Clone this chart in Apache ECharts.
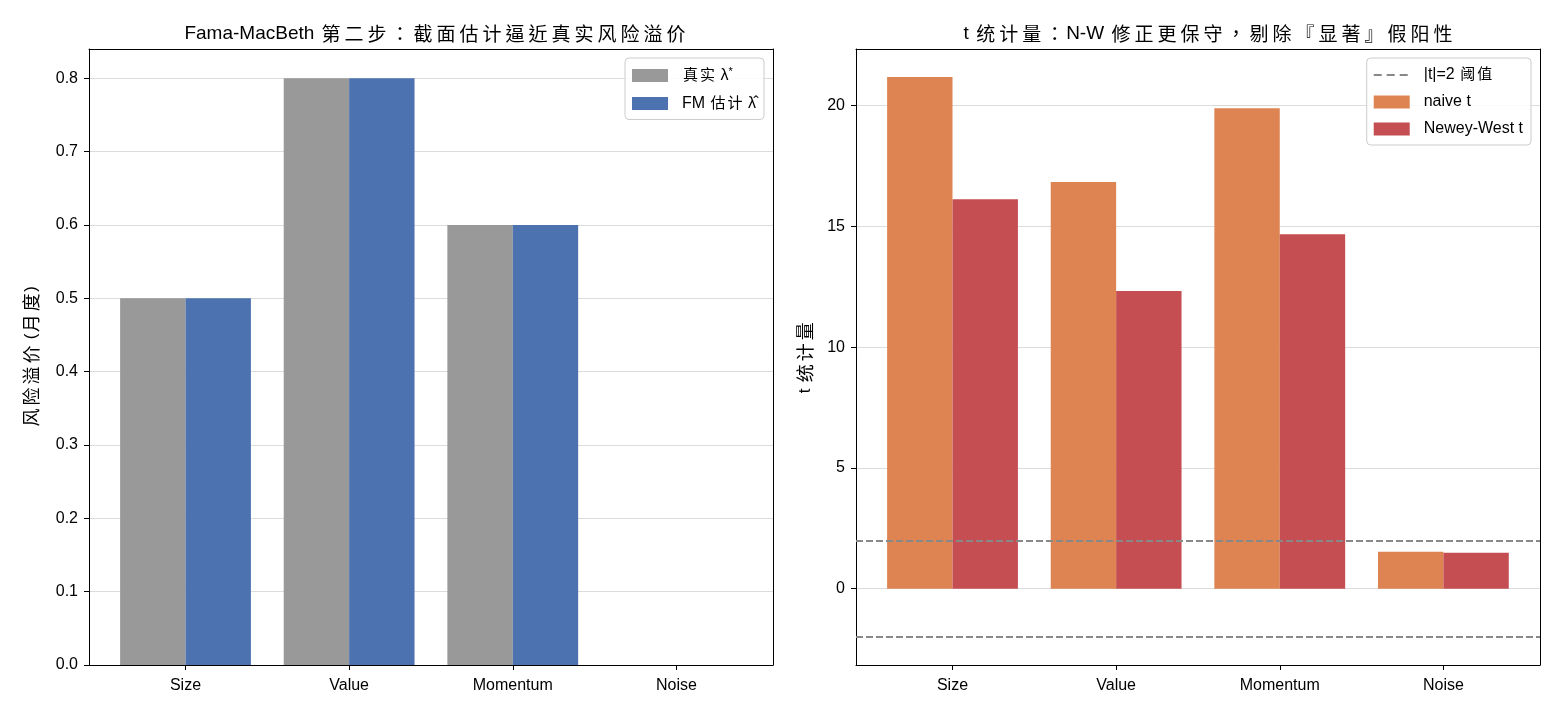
<!DOCTYPE html>
<html>
<head>
<meta charset="utf-8">
<script src="https://cdn.jsdelivr.net/npm/echarts@6/dist/echarts.min.js"></script>
<style>
  html, body { margin: 0; padding: 0; background: #fff; }
  #main { width: 1560px; height: 715px; }
</style>
</head>
<body>
<div id="main"></div>
<script>
// data
const categories = ['Size', 'Value', 'Momentum', 'Noise'];
const trueLambda = [0.5, 0.8, 0.6, 0.0];
const fmLambda = [0.5, 0.8, 0.6, 0.0];
const naiveT = [21.19, 16.84, 19.9, 1.53];
const nwT = [16.13, 12.33, 14.68, 1.49];
const threshold = [2, -2];
const leftTicks = [0, 0.1, 0.2, 0.3, 0.4, 0.5, 0.6, 0.7, 0.8];
const rightTicks = [0, 5, 10, 15, 20];

const FONT = '"Liberation Sans", "Noto Sans CJK TC", sans-serif';
const CJK = '"Noto Sans CJK TC", "Noto Sans CJK SC", sans-serif';
const nameTrue = '真实 λ*';
const nameFM = 'FM 估计 λ\u0302';
const nameThr = '|t|=2 阈值';
// dashed-line legend handle (3 dashes in a 36x13 box)
const dashIcon = 'path://M0,0Z M36,13Z M0,5.6h8v1.8h-8z M13,5.6h8v1.8h-8z M26,5.6h8v1.8h-8z';

// axes limits (matplotlib style margins)
const leftMin = 0, leftMax = 0.84;
const rightMin = -3.16, rightMax = 22.35;

// wrap every CJK char so it gets its own font + a bit of spacing
function cjk(s) {
  return s.replace(/[\u3000-\u303f\u4e00-\u9fff\uff00-\uffef]/g, '{c|$&}');
}

var chart = echarts.init(document.getElementById('main'));

function frameX(grid, pos) {
  return {
    type: 'value', gridIndex: grid, position: pos, min: 0, max: 1, z: 10,
    axisLine: { show: true, onZero: false, lineStyle: { color: '#000', width: 1 } },
    axisTick: { show: false }, axisLabel: { show: false }, splitLine: { show: false }
  };
}
function catX(grid) {
  return {
    type: 'category', gridIndex: grid, data: categories, position: 'bottom',
    axisLine: { show: false, onZero: false },
    axisTick: { show: true, alignWithLabel: true, length: 5, lineStyle: { color: '#000' } },
    axisLabel: { color: '#000', fontSize: 16, fontFamily: FONT, margin: 13 },
    splitLine: { show: false }
  };
}
function labelY(grid, min, max, ticks, name, gap, fmt) {
  return {
    type: 'value', gridIndex: grid, position: 'left', min: min, max: max,
    name: cjk(name), nameLocation: 'middle', nameRotate: 90, nameGap: gap,
    nameTextStyle: { color: '#000', fontSize: 17, fontFamily: FONT, lineHeight: 22,
      rich: { c: { fontSize: 18, fontFamily: CJK, color: '#000', lineHeight: 22,
        verticalAlign: 'middle', padding: [0, 1.5, 0, 1.5] } } },
    axisLine: { show: true, onZero: false, lineStyle: { color: '#000', width: 1 } },
    axisTick: { show: true, length: 5, customValues: ticks, lineStyle: { color: '#000' } },
    axisLabel: { color: '#000', fontSize: 16, fontFamily: FONT, margin: 11, customValues: ticks, formatter: fmt },
    splitLine: { show: true, lineStyle: { color: '#dcdcdc', width: 1 } }
  };
}
function frameY(grid, min, max) {
  return {
    type: 'value', gridIndex: grid, position: 'right', min: min, max: max,
    axisLine: { show: true, onZero: false, lineStyle: { color: '#000', width: 1 } },
    axisTick: { show: false }, axisLabel: { show: false }, splitLine: { show: false }
  };
}
function hiddenY(grid, min, max) {
  return { type: 'value', gridIndex: grid, min: min, max: max, show: false, splitLine: { show: false } };
}

const titleStyle = { color: '#000', fontSize: 19, fontWeight: 'normal', fontFamily: FONT, lineHeight: 24,
  rich: { c: { fontSize: 19, fontFamily: CJK, color: '#000', lineHeight: 24, verticalAlign: 'middle',
    padding: [0, 2, 0, 2] } } };
const legendText = { color: '#000', fontSize: 16, fontFamily: FONT, padding: [0, 0, 0, 9], lineHeight: 18,
  rich: {
    c: { fontSize: 15, fontFamily: CJK, color: '#000', lineHeight: 18, verticalAlign: 'middle',
      padding: [0, 1, 3, 1] },
    s: { fontSize: 11, fontFamily: FONT, color: '#000', padding: [0, 0, 8, 0] }
  } };

option = {
  backgroundColor: '#fff',
  animation: false,
  title: [
    { text: cjk('Fama-MacBeth 第二步：截面估计逼近真实风险溢价'), left: 431, top: 17, textAlign: 'center',
      textStyle: titleStyle },
    { text: cjk('t 统计量：N-W 修正更保守，剔除『显著』假阳性'), left: 1204, top: 17, textAlign: 'center',
      textStyle: titleStyle }
  ],
  legend: [
    { data: [nameTrue, nameFM], orient: 'vertical', right: 796, top: 58, icon: 'rect',
      itemWidth: 36, itemHeight: 13, itemGap: 10, padding: [8, 8, 7, 7],
      backgroundColor: 'rgba(255,255,255,0.85)', borderColor: '#cccccc', borderWidth: 1, borderRadius: 4,
      textStyle: legendText,
      formatter: function (n) { return n === nameTrue ? cjk('真实') + ' λ{s|*}' : cjk(n); } },
    { data: [
        { name: nameThr, icon: dashIcon, itemStyle: { color: '#888888' } },
        'naive t', 'Newey-West t'],
      orient: 'vertical', right: 29, top: 58, icon: 'rect',
      itemWidth: 36, itemHeight: 13, itemGap: 9, padding: [8, 8, 7, 7],
      backgroundColor: 'rgba(255,255,255,0.85)', borderColor: '#cccccc', borderWidth: 1, borderRadius: 4,
      textStyle: legendText,
      formatter: function (n) { return cjk(n); } }
  ],
  grid: [
    { left: 89, top: 49, width: 684, height: 616 },
    { left: 103.7, top: 49, width: 654.5, height: 616 },
    { left: 856, top: 49, width: 684, height: 616 },
    { left: 870.7, top: 49, width: 654.5, height: 616 }
  ],
  xAxis: [
    frameX(0, 'bottom'), frameX(0, 'top'), catX(1),
    frameX(2, 'bottom'), frameX(2, 'top'), catX(3)
  ],
  yAxis: [
    labelY(0, leftMin, leftMax, leftTicks, '风险溢价 (月度)', 47, function (v) { return v.toFixed(1); }),
    frameY(0, leftMin, leftMax),
    hiddenY(1, leftMin, leftMax),
    labelY(2, rightMin, rightMax, rightTicks, 't 统计量', 40, function (v) { return String(v); }),
    frameY(2, rightMin, rightMax),
    hiddenY(3, rightMin, rightMax)
  ],
  series: [
    { name: nameTrue, type: 'bar', xAxisIndex: 2, yAxisIndex: 2, data: trueLambda,
      barWidth: 65.4, barGap: '0%', itemStyle: { color: '#999999' } },
    { name: nameFM, type: 'bar', xAxisIndex: 2, yAxisIndex: 2, data: fmLambda,
      barWidth: 65.4, barGap: '0%', itemStyle: { color: '#4c72b0' } },
    { name: 'naive t', type: 'bar', xAxisIndex: 5, yAxisIndex: 5, data: naiveT,
      barWidth: 65.4, barGap: '0%', itemStyle: { color: '#dd8452' } },
    { name: 'Newey-West t', type: 'bar', xAxisIndex: 5, yAxisIndex: 5, data: nwT,
      barWidth: 65.4, barGap: '0%', itemStyle: { color: '#c44e52' } },
    { name: nameThr, type: 'line', xAxisIndex: 3, yAxisIndex: 3, data: [], z: 5,
      symbol: 'none', legendIcon: dashIcon, itemStyle: { color: '#888888' },
      lineStyle: { color: '#888888', width: 1.8, type: [6, 3] },
      markLine: {
        silent: true, symbol: 'none', label: { show: false },
        lineStyle: { color: '#888888', width: 1.8, type: [7, 3] },
        data: threshold.map(function (v) { return { yAxis: v }; })
      } }
  ]
};

chart.setOption(option);
</script>
</body>
</html>
